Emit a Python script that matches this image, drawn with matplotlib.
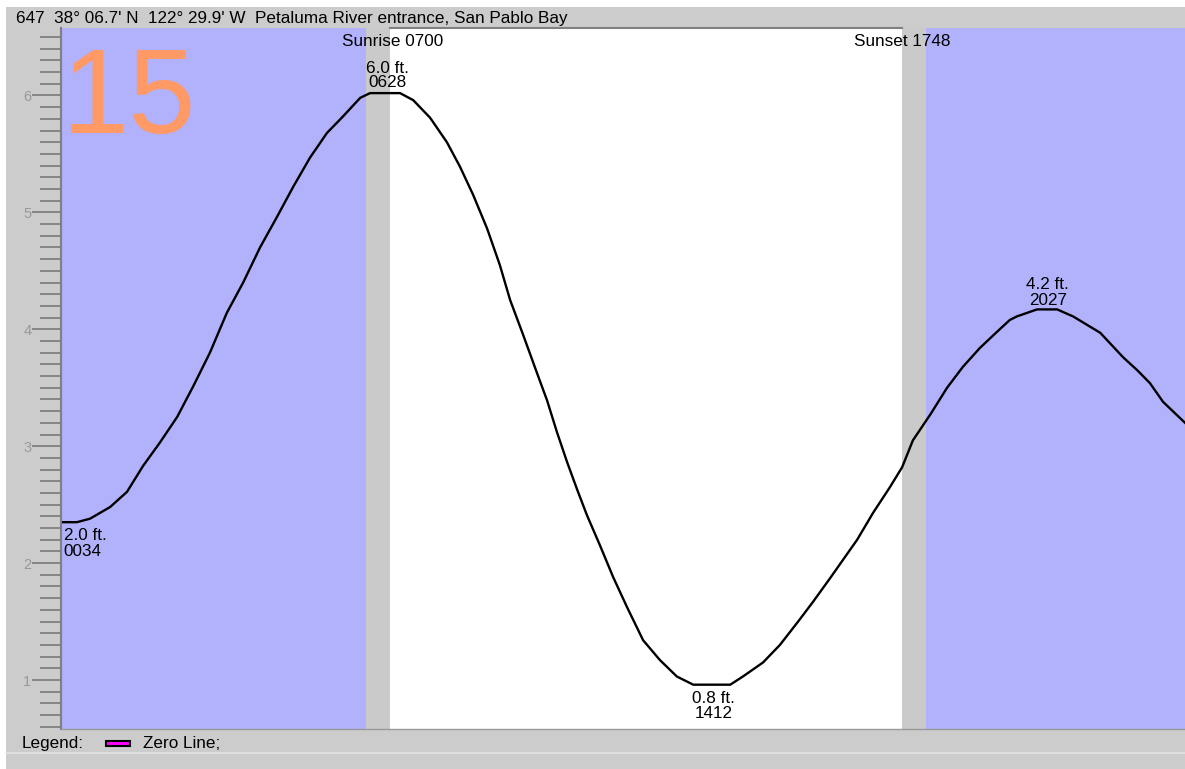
import matplotlib
matplotlib.use('Agg')

import matplotlib.pyplot as plt
from matplotlib.patches import Rectangle
from matplotlib.ticker import MultipleLocator

plt.rcParams['font.family'] = ['Liberation Sans', 'DejaVu Sans']

W, H = 1185, 769
FS = 12.3

station = "647  38° 06.7' N  122° 29.9' W  Petaluma River entrance, San Pablo Bay"
day_number = "15"

# hours since midnight / height in feet
hours = [0.00, 0.34, 0.62, 1.05, 1.41, 1.75, 2.11, 2.48, 2.82, 3.18, 3.54, 3.89,
         4.25, 4.61, 4.96, 5.32, 5.68, 6.02, 6.39, 6.60, 7.24, 7.52, 7.88, 8.24,
         8.52, 8.80, 9.10, 9.37, 9.59, 9.87, 10.16, 10.38, 10.59, 10.81, 11.02,
         11.23, 11.51, 11.79, 12.09, 12.43, 12.79, 13.15, 13.50, 14.29, 14.56,
         14.99, 15.35, 15.72, 16.06, 16.42, 17.00, 17.34, 17.70, 17.96, 18.19,
         18.56, 18.92, 19.26, 19.62, 19.99, 20.26, 20.41, 20.84, 21.27, 21.61,
         22.19, 22.68, 22.98, 23.25, 23.53, 24.00]
heights = [2.35, 2.35, 2.38, 2.48, 2.61, 2.83, 3.03, 3.25, 3.51, 3.80, 4.14, 4.40,
           4.70, 4.96, 5.22, 5.47, 5.68, 5.82, 5.98, 6.02, 6.02, 5.96, 5.81, 5.60,
           5.39, 5.15, 4.86, 4.55, 4.25, 3.95, 3.63, 3.39, 3.12, 2.86, 2.63,
           2.41, 2.15, 1.88, 1.62, 1.34, 1.17, 1.03, 0.96, 0.96, 1.03,
           1.15, 1.30, 1.49, 1.67, 1.87, 2.20, 2.43, 2.65, 2.82, 3.05,
           3.27, 3.50, 3.68, 3.84, 3.98, 4.08, 4.11, 4.17, 4.17, 4.11,
           3.97, 3.76, 3.65, 3.54, 3.38, 3.20]

extreme_labels = ["2.0 ft.\n0034", "6.0 ft.\n0628", "0.8 ft.\n1412", "4.2 ft.\n2027"]
extreme_hours = [0.06, 6.97, 13.94, 21.07]
extreme_levels = [2.061, 6.075, 0.672, 4.208]

dawn = (6.51, 7.03)
dusk = (17.96, 18.47)
sunrise_label = "Sunrise 0700"
sunset_label = "Sunset 1748"

night = '#b1b1fc'
twilight = '#cacaca'
panel = '#cccccc'


def fx(px):
    return px / W


def fy(py):
    return 1 - py / H


fig = plt.figure(figsize=(W / 100, H / 100), dpi=100, facecolor='white')
fig.patches.append(Rectangle((fx(6), 0), 1 - fx(6), fy(7), transform=fig.transFigure,
                             facecolor=panel, edgecolor='none', zorder=-2))
fig.lines.append(plt.Line2D([fx(6), 1], [fy(753), fy(753)], transform=fig.transFigure,
                            color='#e4e4e4', lw=1.2, zorder=-1))

ax = fig.add_axes([fx(61), fy(729), fx(1185) - fx(61), (729 - 28) / H])
ax.set_facecolor('white')
ax.set_xlim(0, 24)
ax.set_ylim(0.581, 6.577)

ax.axvspan(0, dawn[0], color=night, lw=0)
ax.axvspan(dawn[0], dawn[1], color=twilight, lw=0)
ax.axvspan(dusk[0], dusk[1], color=twilight, lw=0)
ax.axvspan(dusk[1], 24, color=night, lw=0)
ax.plot([dawn[1], dusk[0]], [6.577, 6.577], color='#808080', lw=1.5, clip_on=False)

ax.plot(hours, heights, color='black', lw=1.7, solid_joinstyle='round')

for lab, t, v in zip(extreme_labels, extreme_hours, extreme_levels):
    ha = 'left' if t < 1 else 'center'
    sp = 0.85 if v > 6 else 1.05
    ax.text(t, v, lab, ha=ha, va='baseline', fontsize=FS, linespacing=sp,
            multialignment=ha)

ax.text(dawn[1] + 0.05, 6.419, sunrise_label, ha='center', va='baseline', fontsize=FS)
ax.text(dusk[0], 6.419, sunset_label, ha='center', va='baseline', fontsize=FS)

ax.yaxis.set_major_locator(MultipleLocator(1))
ax.yaxis.set_minor_locator(MultipleLocator(0.1))
ax.set_xticks([])
ax.tick_params(axis='y', which='major', length=20.9, width=1.3, color='#808080',
               labelcolor='#999999', labelsize=10.5, pad=0.5)
ax.tick_params(axis='y', which='minor', length=15.1, width=1.3, color='#808080')

for side in ['top', 'right']:
    ax.spines[side].set_visible(False)
ax.spines['left'].set_color('#808080')
ax.spines['left'].set_linewidth(1.5)
ax.spines['bottom'].set_color('#999999')
ax.spines['bottom'].set_linewidth(1.0)

fig.text(fx(62), fy(133), day_number, fontsize=87, color='#ff9966', va='baseline', ha='left')
fig.text(fx(16), fy(23), station, fontsize=FS, va='baseline', ha='left')

fig.text(fx(22), fy(748), "Legend:", fontsize=FS, va='baseline', ha='left')
fig.patches.append(Rectangle((fx(106), fy(745.5)), fx(130) - fx(106), (745.5 - 740.5) / H,
                             transform=fig.transFigure, facecolor='#ff00ff',
                             edgecolor='black', lw=1.5))
fig.text(fx(143), fy(748), "Zero Line;", fontsize=FS, va='baseline', ha='left')

fig.savefig('out.png', dpi=100, facecolor=fig.get_facecolor())
